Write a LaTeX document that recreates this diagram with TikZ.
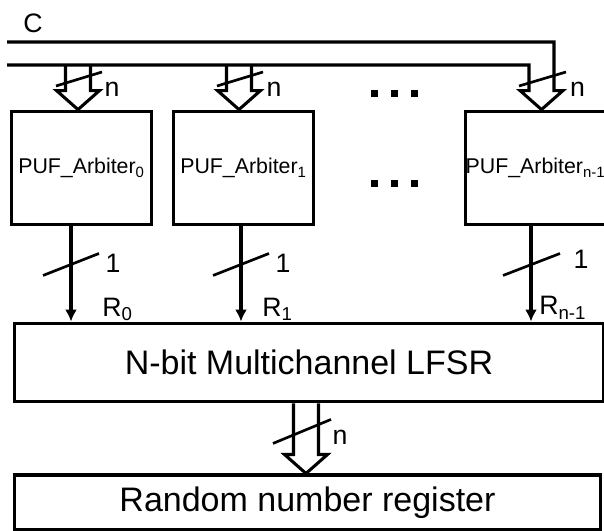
\documentclass[tikz,border=0pt]{standalone}
\usepackage{fontspec}
\setmainfont{Liberation Sans}
\usetikzlibrary{calc,arrows.meta}

% flecha ancha hueca: #1 arriba, #2 punta
\newcommand{\fatarrow}[2]{%
  \draw[bus] ($(#1)+(-12.5,0)$) -- ($(#2)+(-12.5,-19)$) -- ($(#2)+(-21.5,-19)$)
    -- (#2) -- ($(#2)+(21.5,-19)$) -- ($(#2)+(12.5,-19)$) -- ($(#1)+(12.5,0)$);}

\begin{document}
\begin{tikzpicture}[x=0.75pt,y=-0.75pt]
    \tikzset{
      blk/.style={rectangle, draw, line width=2.9pt, inner sep=0pt},
      puf/.style={blk, minimum width=105pt, minimum height=84.75pt,
                  font=\fontsize{16}{19}\selectfont},
      big/.style={blk, font=\fontsize{25.5}{30}\selectfont},
      bus/.style={line width=2.3pt, line join=miter},
      wire/.style={line width=2.3pt, -{Latex[length=9pt,width=9pt]}},
      slash/.style={line width=2pt},
      lbl/.style={inner sep=0pt, font=\fontsize{20}{24}\selectfont}
    }
    \useasboundingbox (0,0) rectangle (604,531);

    % Bloques PUF
    \node[puf] (puf0) at (81.5,168) {PUF\_Arbiter\textsubscript{0}};
    \node[puf] (puf1) at (243.5,168) {PUF\_Arbiter\textsubscript{1}};
    \node[puf] (pufn) at (535.5,168) {PUF\_Arbiter\textsubscript{n-1}};

    % LFSR y registro
    \node[big, minimum width=441.75pt, minimum height=58.5pt] (lfsr)
      at (309,362.5) {N-bit Multichannel LFSR};
    \node[big, minimum width=439.5pt, minimum height=41pt] (reg)
      at (307.5,502.75) {Random number register};

    % Puntos suspensivos
    \foreach \y in {93.5,184}
      \foreach \x in {374.5,394,414}
        \fill (\x-3.5,\y-3.5) rectangle ++(7,7);

    % Bus de entrada C
    \coordinate (cbus) at (7,42);
    \coordinate (nbus) at (7,65);
    \coordinate (in0) at (78,65);
    \coordinate (in1) at (239,65);
    \coordinate (inn) at (541.5,65);
    \node[lbl, anchor=base] (clbl) at (33,33) {C};

    \draw[bus] (cbus) -| ($(inn |- pufn.north)+(12.5,-19)$)
      -- ($(inn |- pufn.north)+(21.5,-19)$) -- (inn |- pufn.north)
      -- ($(inn |- pufn.north)+(-21.5,-19)$)
      -- ($(inn |- pufn.north)+(-12.5,-19)$) |- (nbus);
    \fatarrow{in0}{in0 |- puf0.north}
    \fatarrow{in1}{in1 |- puf1.north}

    \draw[slash] ($(in0)+(-22,21)$) -- ($(in0)+(24,7)$);
    \draw[slash] ($(in1)+(-22,21)$) -- ($(in1)+(24,7)$);
    \draw[slash] ($(inn)+(-22.5,21)$) -- ($(inn)+(24.5,7)$);
    \node[lbl] (n0) at ($(in0)+(34,24)$) {n};
    \node[lbl] (n1) at ($(in1)+(35,24)$) {n};
    \node[lbl] (nn) at ($(inn)+(36,24)$) {n};

    % Salidas de 1 bit
    \coordinate (x0) at (71,0);
    \coordinate (x1) at (241,0);
    \coordinate (xn) at (531,0);
    \draw[wire] (x0 |- puf0.south) -- coordinate[pos=.4] (r0) (x0 |- lfsr.north);
    \draw[wire] (x1 |- puf1.south) -- coordinate[pos=.4] (r1) (x1 |- lfsr.north);
    \draw[wire] (xn |- pufn.south) -- coordinate[pos=.4] (rn) (xn |- lfsr.north);

    \draw[slash] ($(r0)+(-28,11)$) -- ($(r0)+(28,-11)$);
    \draw[slash] ($(r1)+(-28,11)$) -- ($(r1)+(28,-11)$);
    \draw[slash] ($(rn)+(-28,11)$) -- ($(rn)+(29,-11)$);
    \node[lbl] (one0) at ($(r0)+(42,-1)$) {1};
    \node[lbl] (one1) at ($(r1)+(42,-1)$) {1};
    \node[lbl] (onen) at ($(rn)+(50,-5)$) {1};

    \node[lbl, anchor=base west] (rl0) at (102,316) {R\textsubscript{0}};
    \node[lbl, anchor=base west] (rl1) at (262,316) {R\textsubscript{1}};
    \node[lbl, anchor=base west] (rln) at (539,315) {R\textsubscript{n-1}};

    % Salida al registro
    \coordinate (lout) at (306,0);
    \coordinate (lmid) at ($(lout |- lfsr.south)+(0,26)$);
    \fatarrow{lout |- lfsr.south}{lout |- reg.north}
    \draw[slash] ($(lmid)+(-33,14)$) -- ($(lmid)+(25,-10)$);
    \node[lbl] (nl) at ($(lmid)+(34,7.5)$) {n};
  \end{tikzpicture}
\end{document}
